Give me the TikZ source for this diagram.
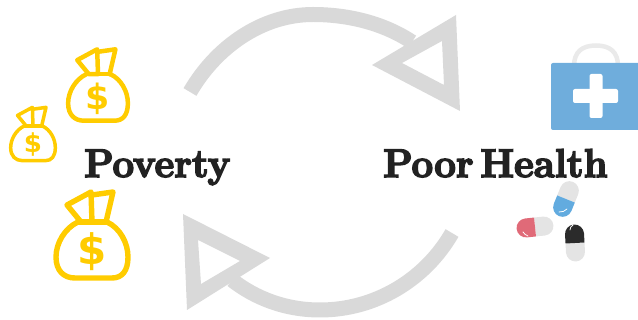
\documentclass[tikz,border=0pt]{standalone}
\usepackage{fontspec}
\newfontfamily\titlefont[BoldFeatures={FakeBold=4},Ligatures=TeX]{Latin Modern Roman}
\newfontfamily\dollarfont{DejaVu Sans Bold}
\definecolor{arrowgray}{HTML}{D9D9D9}
\definecolor{bagyellow}{HTML}{FFCC00}
\definecolor{kitblue}{HTML}{6FADDC}
\definecolor{pillgray}{HTML}{E4E4E4}
\definecolor{handlegray}{HTML}{EAEAEA}
\definecolor{pillblue}{HTML}{62ABDF}
\definecolor{pillred}{HTML}{E06A78}
\definecolor{pillblack}{HTML}{2B2B2B}
\definecolor{titleblack}{HTML}{222222}
\tikzset{
  shaft/.style={draw=arrowgray,line width=15pt,line cap=butt},
  head/.style={fill=arrowgray,even odd rule,draw=none},
  title/.style={font=\titlefont\bfseries\fontsize{#1}{#1}\selectfont,text=titleblack,anchor=base west,inner sep=0pt,xscale=.96},
  bagline/.style={draw=bagyellow,line width=5.4pt,line join=round,line cap=round},
  moneybag/.pic={
    \draw[bagline] (-14,-13) .. controls (-27,-7) and (-36,8) .. (-36,22)
       .. controls (-36,36) and (-28,43) .. (-17,43) -- (20,43)
       .. controls (30,43) and (36,36) .. (36,22)
       .. controls (36,8) and (28,-7) .. (15,-13);
    \draw[bagline] (-14,-13) -- (15,-13);
    \draw[bagline] (-25,-30) -- (-1,-43) -- (0,-13) -- (-11,-13) -- cycle;
    \draw[bagline] (0,-40) -- (21,-43) -- (14,-13);
    \node[font=\dollarfont\fontsize{42}{42}\selectfont,text=bagyellow,transform shape,inner sep=0pt] (-dollar) at (0,17) {\$};
  },
  capsule/.pic={
    \fill[pillgray] (0,-9.5) -- (9,-9.5) arc (-90:90:9.5) -- (0,9.5) -- cycle;
    \fill[#1] (0,-9.5) -- (-9,-9.5) arc (270:90:9.5) -- (0,9.5) -- cycle;
  },
  glint/.style={draw=white,line width=.8pt,line cap=round}
}
\begin{document}
\begin{tikzpicture}[x=1pt,y=-1pt]
\useasboundingbox (0,0) rectangle (638,320);
% cycle arrows
\draw[shaft] (190,92) .. controls (216,47) and (262,14.5) .. (313,14.5)
   .. controls (350,14.5) and (385,24) .. (412,42);
\fill[head] (372,65) -- (456,15) -- (460,111) -- cycle (402,63) -- (442,41) -- (444,85) -- cycle;
\draw[shaft] (452,233) .. controls (425,280) and (375,310) .. (320,310)
   .. controls (285,310) and (255,298) .. (232,280);
\fill[head] (183,214) -- (270,258) -- (187,310) -- cycle (198,240) -- (240,261) -- (201,284) -- cycle;
% money bags
\pic[scale=.83,bagline/.append style={line width=4.5pt}] at (98,85) {moneybag};
\pic[scale=.62,bagline/.append style={line width=3.5pt}] at (33,134) {moneybag};
\pic at (92,235) {moneybag};
% titles
\node[title=40] (poverty) at (84,177) {Poverty};
\node[title=40] (health) at (383,177) {Poor\hspace{-.2em} Health};
% medical kit
\draw[handlegray,line width=4.5pt] (574,66) .. controls (574,52) and (582,45.5) .. (596,45.5) .. controls (610,45.5) and (618,52) .. (618,66);
\fill[kitblue,rounded corners=2pt] (551,63) rectangle (645,130);
\fill[white,rounded corners=2pt] (589.5,74) rectangle (602.5,118);
\fill[white,rounded corners=2pt] (573,89) rectangle (618,103);
% pills
\pic[rotate=68,x=1pt,y=1pt] at (566pt,-199pt) {capsule=pillblue};
\pic[rotate=6,x=1pt,y=1pt] at (535pt,-227pt) {capsule=pillred};
\pic[rotate=-87,x=1pt,y=1pt] at (575pt,-243pt) {capsule=pillblack};
\draw[glint] (559,212) .. controls (562,212.5) and (565,211) .. (567,209);
\draw[glint] (523,232) .. controls (524,234) and (526,235) .. (528,236);
\draw[glint] (570,230) .. controls (570,228) and (571,226) .. (573,225);
\end{tikzpicture}
\end{document}
